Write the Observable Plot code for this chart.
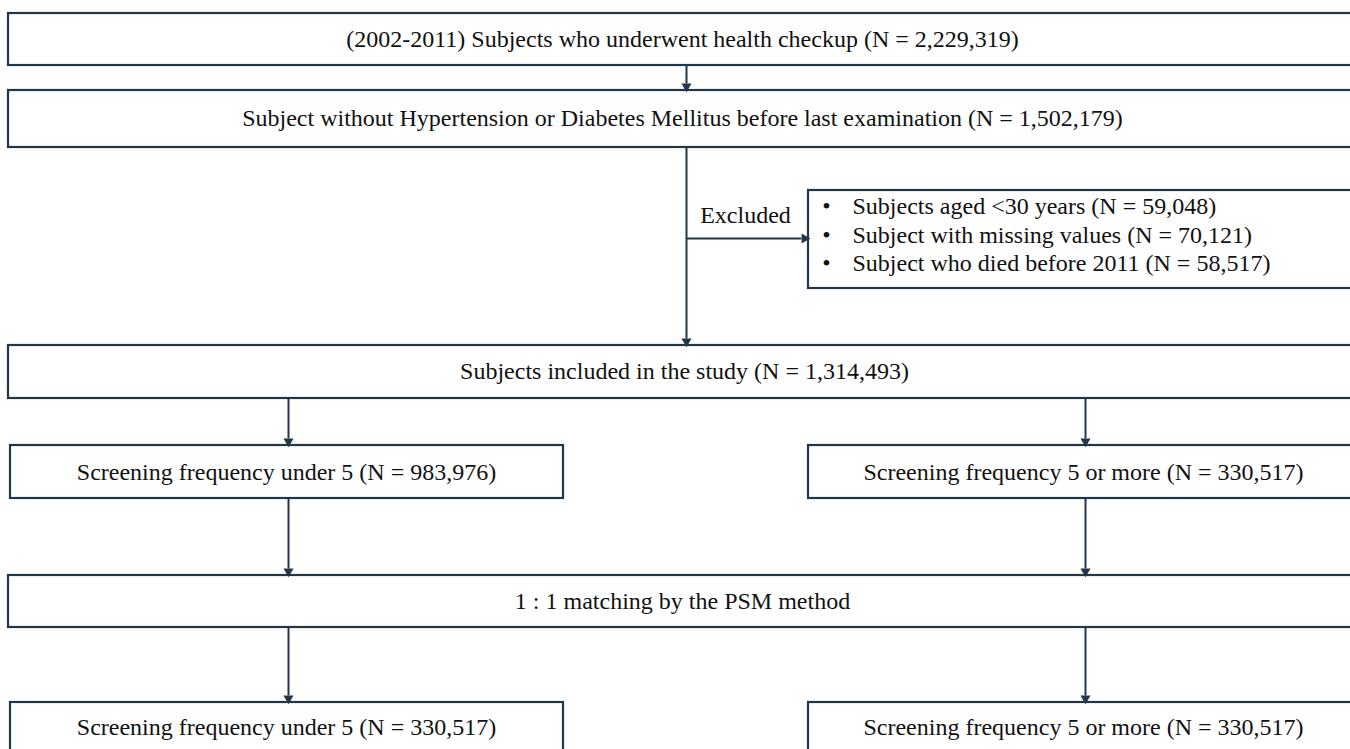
<!DOCTYPE html>
<html>
<head>
<meta charset="utf-8">
<script src="https://cdn.jsdelivr.net/npm/d3@7"></script>
<script src="https://cdn.jsdelivr.net/npm/@observablehq/plot@0.6"></script>
<style>
  html, body { margin: 0; padding: 0; background: #ffffff; }
  #chart svg { display: block; }
</style>
</head>
<body>
<div id="chart"></div>
<script>
// ---- Data: flowchart step labels ----
const stepIds = ["all", "noHtnDm", "included", "under5", "fiveMore", "psm", "under5m", "fiveMorem"];
const stepLabels = [
  "(2002-2011) Subjects who underwent health checkup (N = 2,229,319)",
  "Subject without Hypertension or Diabetes Mellitus before last examination (N = 1,502,179)",
  "Subjects included in the study (N = 1,314,493)",
  "Screening frequency under 5 (N = 983,976)",
  "Screening frequency 5 or more (N = 330,517)",
  "1 : 1 matching by the PSM method",
  "Screening frequency under 5 (N = 330,517)",
  "Screening frequency 5 or more (N = 330,517)"
];
const exclusionLabel = "Excluded";
const exclusionItems = [
  "Subjects aged <30 years (N = 59,048)",
  "Subject with missing values (N = 70,121)",
  "Subject who died before 2011 (N = 58,517)"
];
// Flow connections (from -> to)
const flowFrom = ["all", "noHtnDm", "included", "included", "under5", "fiveMore", "psm", "psm"];
const flowTo   = ["noHtnDm", "included", "under5", "fiveMore", "psm", "psm", "under5m", "fiveMorem"];

// ---- Layout (positions in page pixels) ----
const W = 1350, H = 749;
const layout = {
  all:       {x1: 8,   x2: 1360, y1: 13,  y2: 65,  cx: 682},
  noHtnDm:   {x1: 8,   x2: 1360, y1: 90,  y2: 147, cx: 682},
  included:  {x1: 8,   x2: 1360, y1: 345, y2: 398, cx: 684},
  under5:    {x1: 10,  x2: 563,  y1: 445, y2: 498, cx: 286},
  fiveMore:  {x1: 808, x2: 1360, y1: 445, y2: 498, cx: 1083},
  psm:       {x1: 8,   x2: 1360, y1: 575, y2: 627, cx: 682},
  under5m:   {x1: 10,  x2: 563,  y1: 702, y2: 770, cx: 286},
  fiveMorem: {x1: 808, x2: 1360, y1: 702, y2: 770, cx: 1083}
};
const exBox = {x1: 808, x2: 1360, y1: 190, y2: 288, bulletX: 826, textX: 852, lineY: [206, 235, 263]};
const trunkX = 686, branchY = 238;
const leftX = 288, rightX = 1085;
const textY = {all: 39, noHtnDm: 118, included: 371, under5: 472, fiveMore: 472, psm: 601, under5m: 727, fiveMorem: 727};

const boxes = stepIds.map((id, i) => ({id, label: stepLabels[i], ...layout[id], ty: textY[id]}));

function arrowX(from, to) {
  if (from === "all" || from === "noHtnDm") return trunkX;
  return (to === "under5" || to === "under5m" || from === "under5") ? leftX : rightX;
}
const arrows = flowFrom.map((f, i) => {
  const t = flowTo[i];
  const x = arrowX(f, t);
  return {x1: x, x2: x, y1: layout[f].y2, y2: layout[t].y1, dir: "down"};
});
arrows.push({x1: trunkX, x2: exBox.x1, y1: branchY, y2: branchY, dir: "right"});

const stroke = "#22364a";
const HEAD = 9;
const FS = 24;
const font = "'Liberation Serif', 'Times New Roman', serif";

const plot = Plot.plot({
  width: W,
  height: H,
  margin: 0,
  x: {domain: [0, W], range: [0, W], axis: null},
  y: {domain: [0, H], range: [0, H], axis: null},
  style: {background: "#ffffff", fontFamily: font},
  marks: [
    Plot.link(arrows, {
      x1: "x1", y1: "y1",
      x2: d => d.dir === "right" ? d.x2 - HEAD + 2 : d.x2,
      y2: d => d.dir === "down" ? d.y2 - HEAD + 2 : d.y2,
      stroke, strokeWidth: 2
    }),
    Plot.rect(boxes, {x1: "x1", x2: "x2", y1: "y1", y2: "y2", fill: "white", stroke, strokeWidth: 2.2}),
    Plot.rect([exBox], {x1: "x1", x2: "x2", y1: "y1", y2: "y2", fill: "white", stroke, strokeWidth: 2.2}),
    Plot.dot(arrows, {
      x: d => d.dir === "right" ? d.x2 - 4 : d.x2,
      y: d => d.dir === "down" ? d.y2 - 4 : d.y2,
      symbol: "triangle2",
      rotate: d => d.dir === "down" ? 180 : 90,
      r: 4.8, fill: stroke, stroke: "none"
    }),
    Plot.text(boxes, {x: "cx", y: "ty", text: "label", fontSize: FS, fill: "#111", fontFamily: font}),
    Plot.text([exclusionLabel], {x: 745, y: 215, text: d => d, fontSize: FS, fill: "#111", fontFamily: font}),
    Plot.text(exclusionItems, {x: exBox.bulletX, y: (d, i) => exBox.lineY[i], text: () => "•", fontSize: FS, fill: "#111", fontFamily: font}),
    Plot.text(exclusionItems, {x: exBox.textX, y: (d, i) => exBox.lineY[i], text: d => d, textAnchor: "start", fontSize: FS, fill: "#111", fontFamily: font})
  ]
});
document.getElementById("chart").appendChild(plot);
</script>
</body>
</html>
